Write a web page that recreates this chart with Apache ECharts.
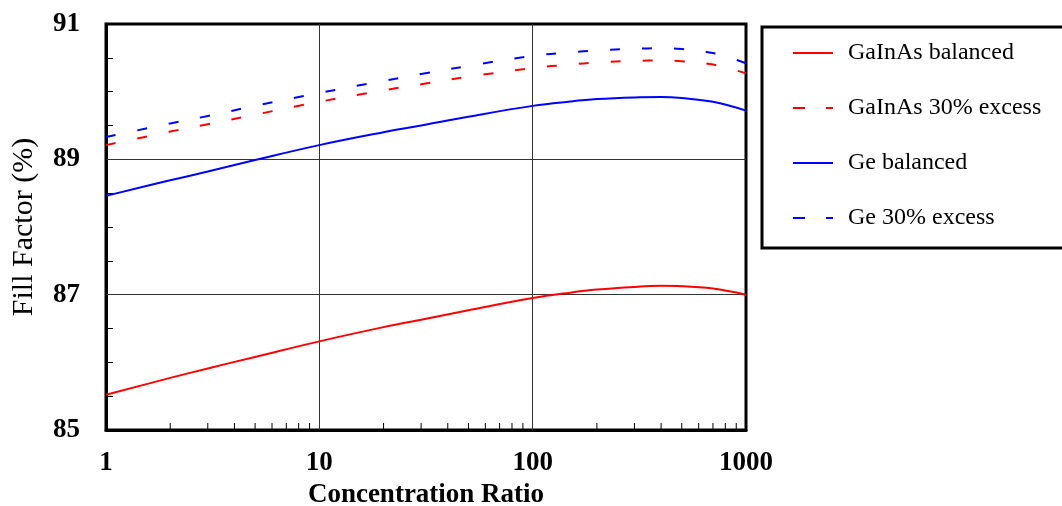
<!DOCTYPE html>
<html>
<head>
<meta charset="utf-8">
<script src="https://cdn.jsdelivr.net/npm/echarts@6/dist/echarts.min.js"></script>
<style>
html,body{margin:0;padding:0;background:#fff;}
#chart{width:1062px;height:506px;}
</style>
</head>
<body>
<div id="chart"></div>
<script>
// Concentration ratio (x values)
const concentration = [1, 2, 3, 5, 10, 20, 30, 50, 100, 150, 200, 300, 400, 500, 700, 1000];
// Fill factor (%) per series
const gainasBalanced = [85.52, 85.77, 85.91, 86.08, 86.31, 86.52, 86.63, 86.77, 86.95, 87.03, 87.075, 87.115, 87.13, 87.125, 87.09, 87.00];
const gainasExcess   = [89.21, 89.41, 89.52, 89.66, 89.85, 90.02, 90.11, 90.22, 90.35, 90.40, 90.43, 90.455, 90.46, 90.45, 90.40, 90.27];
const geBalanced     = [88.46, 88.69, 88.82, 88.99, 89.21, 89.40, 89.50, 89.63, 89.79, 89.855, 89.89, 89.915, 89.92, 89.905, 89.85, 89.72];
const geExcess       = [89.33, 89.53, 89.64, 89.79, 89.98, 90.16, 90.26, 90.38, 90.53, 90.58, 90.61, 90.635, 90.64, 90.63, 90.57, 90.42];
const seriesNames = ['GaInAs balanced', 'GaInAs 30% excess', 'Ge balanced', 'Ge 30% excess'];
// Axis ticks
const yLabelTicks = [85, 87, 89, 91];
const xMinorTicks = [2,3,4,5,6,7,8,9,20,30,40,50,60,70,80,90,200,300,400,500,600,700,800,900];
const xGridLines = [10, 100];
const yGridLines = [87, 89];

const pair = (vals) => concentration.map((x, i) => [x, vals[i]]);
const serif = '"Liberation Serif", "Times New Roman", serif';
const dash = [10, 22];
const legendDash = [12, 21];

const chart = echarts.init(document.getElementById('chart'), null, {renderer: 'canvas'});
chart.setOption({
  animation: false,
  backgroundColor: '#fff',
  grid: {left: 106, right: 316, top: 24, bottom: 76, show: true, borderColor: '#000', borderWidth: 3,
    backgroundColor: 'transparent', containLabel: false, outerBoundsMode: 'none'},
  legend: {
    orient: 'vertical',
    left: 762, top: 27,
    padding: [14, 120, 18, 30],
    itemWidth: 40, itemHeight: 14, itemGap: 31,
    borderColor: '#000', borderWidth: 3, backgroundColor: '#fff',
    itemStyle: {opacity: 0},
    textStyle: {fontFamily: serif, fontSize: 24, color: '#000', padding: [0, 0, 0, 10], lineHeight: 24},
    data: seriesNames.map((n, i) => i % 2 === 1
      ? {name: n, lineStyle: {type: legendDash, width: 2}}
      : {name: n, lineStyle: {width: 2}}),
  },
  xAxis: {
    type: 'log', logBase: 10, min: 1, max: 1000,
    name: 'Concentration Ratio', nameLocation: 'middle', nameGap: 50,
    nameTextStyle: {fontFamily: serif, fontSize: 27, fontWeight: 'bold', color: '#000'},
    axisLine: {show: true, lineStyle: {color: '#000', width: 3}},
    axisTick: {show: false},
    splitLine: {show: false},
    axisLabel: {fontFamily: serif, fontSize: 27, fontWeight: 'bold', color: '#000', margin: 20,
      formatter: v => String(Math.round(v))},
  },
  yAxis: {
    type: 'value', min: 85, max: 91, interval: 0.5,
    name: 'Fill Factor (%)', nameLocation: 'middle', nameGap: 67,
    nameTextStyle: {fontFamily: serif, fontSize: 30, color: '#000'},
    axisLine: {show: true, lineStyle: {color: '#000', width: 3}},
    axisTick: {show: true, inside: true, length: 7, lineStyle: {color: '#000', width: 1}},
    splitLine: {show: false},
    axisLabel: {
      fontFamily: serif, fontSize: 27, fontWeight: 'bold', color: '#000', margin: 26,
      formatter: v => yLabelTicks.indexOf(v) >= 0 ? String(v) : ''
    },
  },
  series: [
    {
      name: seriesNames[0], type: 'line', data: pair(gainasBalanced), smooth: 0.4, showSymbol: false, symbol: 'none',
      lineStyle: {color: '#ff0000', width: 2}, itemStyle: {color: '#ff0000'}, z: 5,
      markLine: {
        silent: true, symbol: 'none', label: {show: false},
        lineStyle: {color: '#333', width: 1, type: 'solid'},
        data: xGridLines.map(v => ({xAxis: v})).concat(yGridLines.map(v => ({yAxis: v}))),
      }
    },
    {name: seriesNames[1], type: 'line', data: pair(gainasExcess), smooth: 0.4, showSymbol: false, symbol: 'none',
      lineStyle: {color: '#ff0000', width: 2, type: dash}, itemStyle: {color: '#ff0000'}, z: 5},
    {name: seriesNames[2], type: 'line', data: pair(geBalanced), smooth: 0.4, showSymbol: false, symbol: 'none',
      lineStyle: {color: '#0000ff', width: 2}, itemStyle: {color: '#0000ff'}, z: 5},
    {name: seriesNames[3], type: 'line', data: pair(geExcess), smooth: 0.4, showSymbol: false, symbol: 'none',
      lineStyle: {color: '#0000ff', width: 2, type: dash}, itemStyle: {color: '#0000ff'}, z: 5},
    {
      type: 'custom', silent: true, z: 6,
      data: xMinorTicks.map(v => [v, 85]),
      renderItem: (params, api) => {
        const p = api.coord([api.value(0), api.value(1)]);
        return {type: 'line', shape: {x1: p[0], y1: p[1], x2: p[0], y2: p[1] - 7}, style: {stroke: '#000', lineWidth: 1}};
      }
    }
  ]
});
</script>
</body>
</html>
